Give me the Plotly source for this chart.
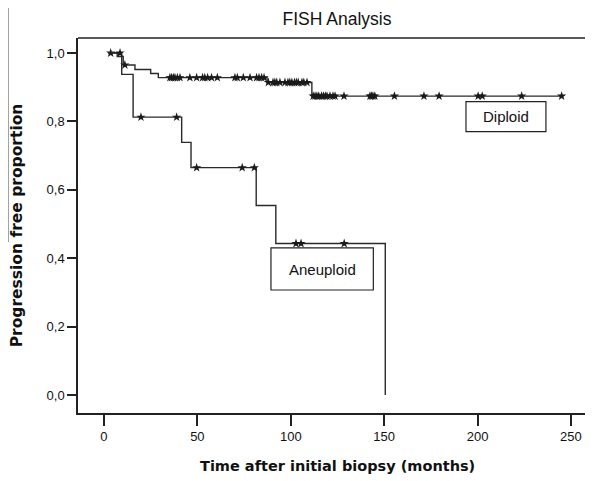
import plotly.graph_objects as go

# ---- data ----
dip_start = 2.3
dip_drop_times = [7.1, 10.3, 16.6, 25.0, 29.1, 87.3, 111.3]
dip_levels = [0.990, 0.965, 0.952, 0.940, 0.928, 0.914, 0.874]
dip_end = 245.7
dip_censor = [3.6, 11.2,
              35.3, 36.2, 37.1, 38.0, 39.3, 40.7, 46.0, 49.6, 52.8, 54.0, 55.5, 57.6, 60.7,
              70.1, 71.4, 74.6, 78.2, 81.7, 83.0, 84.4, 85.7,
              88.0, 90.5, 91.5, 92.5, 94.2, 96.9, 98.5, 99.5, 100.6, 102.0, 103.0, 104.0,
              106.0, 107.0, 108.7,
              112.0, 113.0, 114.0, 115.0, 116.5, 117.5, 118.5, 119.4, 121.0, 122.6, 123.7,
              128.5, 142.4, 143.2, 144.0, 145.0, 155.5, 171.3, 179.4, 200.3, 202.5, 223.6, 245.0]

ane_start = 2.3
ane_drop_times = [9.5, 15.6, 41.6, 46.6, 81.5, 92.0, 150.6]
ane_levels = [0.9375, 0.8125, 0.7386, 0.6648, 0.554, 0.443, 0.0]
ane_end = 150.6
ane_censor = [8.6, 19.8, 38.9, 49.6, 74.0, 80.5, 102.8, 105.5, 128.6]

x_ticks = [0, 50, 100, 150, 200, 250]
x_tick_labels = ["0", "50", "100", "150", "200", "250"]
y_ticks = [0.0, 0.2, 0.4, 0.6, 0.8, 1.0]
y_tick_labels = ["0,0", "0,2", "0,4", "0,6", "0,8", "1,0"]

title_text = "FISH Analysis"
x_title = "Time after initial biopsy (months)"
y_title = "Progression free proportion"
group_names = ["Diploid", "Aneuploid"]


def step_xy(start, drops, levels, end):
    xs, ys = [start], [1.0]
    for t, l in zip(drops, levels):
        xs.append(t)
        ys.append(l)
    if end > xs[-1]:
        xs.append(end)
        ys.append(ys[-1])
    return xs, ys


def level_at(t, drops, levels):
    s = 1.0
    for d, l in zip(drops, levels):
        if t >= d:
            s = l
    return s


LINE = "#2a2a2a"
fig = go.Figure()

for start, drops, levels, end, cens in [
    (dip_start, dip_drop_times, dip_levels, dip_end, dip_censor),
    (ane_start, ane_drop_times, ane_levels, ane_end, ane_censor),
]:
    xs, ys = step_xy(start, drops, levels, end)
    fig.add_trace(go.Scatter(x=xs, y=ys, mode="lines", line=dict(shape="hv", color=LINE, width=1.4),
                             showlegend=False, hoverinfo="skip"))
    fig.add_trace(go.Scatter(x=cens, y=[level_at(c, drops, levels) for c in cens], mode="markers",
                             marker=dict(symbol="star", size=7, color="#1a1a1a",
                                         line=dict(width=0)),
                             showlegend=False, hoverinfo="skip"))

FONT = "Liberation Sans, Arial, sans-serif"
BOLD = "DejaVu Sans, Verdana, sans-serif"

# the page has an 8px body margin, so the figure is sized/offset to compensate
fig.update_layout(
    width=585, height=473,
    margin=dict(l=70, r=0, t=30, b=68),
    paper_bgcolor="white", plot_bgcolor="white",
    title=dict(text=title_text, x=0.5624, xanchor="center", y=0.9767, yanchor="middle",
               font=dict(family=FONT, size=17.5, color="#111")),
    xaxis=dict(range=[-13.9, 261.8], tickvals=x_ticks, ticktext=x_tick_labels,
               showgrid=False, zeroline=False, showline=True, linecolor="#222", linewidth=1.5,
               ticks="outside", ticklen=11, tickwidth=1.5, tickcolor="#222",
               tickfont=dict(family=FONT, size=13, color="#111")),
    yaxis=dict(range=[-0.0526, 1.0439], tickvals=y_ticks, ticktext=y_tick_labels,
               showgrid=False, zeroline=False, showline=True, linecolor="#222", linewidth=1.5,
               ticks="outside", ticklen=9, tickwidth=1.5, tickcolor="#222",
               tickfont=dict(family=FONT, size=13, color="#111")),
    shapes=[
        dict(type="line", xref="paper", yref="paper", x0=0, x1=1, y0=1, y1=1,
             line=dict(color="#222", width=1.5)),
        dict(type="line", xref="paper", yref="paper", x0=-0.136, x1=-0.136, y0=0.456, y1=1.11,
             line=dict(color="#333", width=1)),
        dict(type="rect", x0=193.8, x1=236.6, y0=0.770, y1=0.858,
             line=dict(color="#222", width=1.2), fillcolor="white"),
        dict(type="rect", x0=89.4, x1=144.2, y0=0.307, y1=0.430,
             line=dict(color="#222", width=1.2), fillcolor="white"),
    ],
    annotations=[
        dict(text=group_names[0], x=215.2, y=0.814, xref="x", yref="y", showarrow=False,
             font=dict(family=FONT, size=15, color="#111")),
        dict(text=group_names[1], x=116.8, y=0.368, xref="x", yref="y", showarrow=False,
             font=dict(family=FONT, size=15, color="#111")),
        dict(text="<b>" + x_title + "</b>", x=0.503, y=-0.141, xref="paper", yref="paper",
             xanchor="center", yanchor="middle", showarrow=False,
             font=dict(family=BOLD, size=14.5, color="#111")),
        dict(text="<b>" + y_title + "</b>", x=-0.118, y=0.501, xref="paper", yref="paper",
             xanchor="center", yanchor="middle", textangle=-90, showarrow=False,
             font=dict(family=BOLD, size=15.5, color="#111")),
    ],
)

fig.write_html("out.html")
